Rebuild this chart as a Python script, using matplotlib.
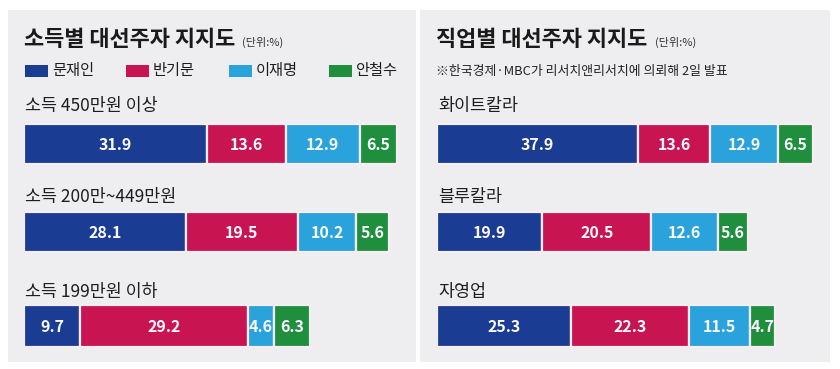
import matplotlib
matplotlib.use('Agg')
import matplotlib.pyplot as plt
from matplotlib.patches import Rectangle

plt.rcParams['font.family'] = ['Noto Sans CJK KR', 'DejaVu Sans']

candidates = ['문재인', '반기문', '이재명', '안철수']
colors = ['#1b3c93', '#c91452', '#2aa2dc', '#1f8f3e']

income_groups = ['소득 450만원 이상', '소득 200만~449만원', '소득 199만원 이하']
income_vals = [
    [31.9, 13.6, 12.9, 6.5],
    [28.1, 19.5, 10.2, 5.6],
    [9.7, 29.2, 4.6, 6.3],
]

job_groups = ['화이트칼라', '블루칼라', '자영업']
job_vals = [
    [37.9, 13.6, 12.9, 6.5],
    [19.9, 20.5, 12.6, 5.6],
    [25.3, 22.3, 11.5, 4.7],
]

W, H = 840, 369
fig = plt.figure(figsize=(W / 100, H / 100), dpi=100)
fig.patch.set_facecolor('white')


def fx(px):
    return px / W


def fy(py):
    # py measured from the top of the picture
    return 1 - py / H


# gray panels
for x0, x1 in [(8, 416), (420, 830)]:
    fig.patches.append(Rectangle((fx(x0), fy(362)), fx(x1 - x0), (362 - 10) / H,
                                 transform=fig.transFigure, facecolor='#eeeef0',
                                 edgecolor='none', zorder=-5))

row_y = [144, 232, 326]
row_h = [40, 40, 42]
label_y = [106, 197, 292]


def panel(left, right, scale, groups, vals):
    ax = fig.add_axes([fx(left), fy(352), fx(right - left), (352 - 118) / H])
    ax.set_zorder(2)
    ax.set_xlim(0, (right - left) / scale)
    ax.set_ylim(352, 118)
    ax.axis('off')
    for r, row in enumerate(vals):
        start = 0
        for c, v in enumerate(row):
            ax.barh(row_y[r], v, left=start, height=row_h[r], color=colors[c],
                    edgecolor='#f6eef3', linewidth=1.6)
            ax.text(start + v / 2, row_y[r] + 1, f'{v:.1f}', color='#fbfbff',
                    ha='center', va='center', fontsize=11.5, fontweight='bold')
            start += v
        fig.text(fx(left + 1), fy(label_y[r]), groups[r], fontsize=12.5,
                 ha='left', va='center', color='#1e1e1e', fontweight='medium')
    return ax


panel(24, 410, 5.75, income_groups, income_vals)
panel(437, 830, 5.3, job_groups, job_vals)

# titles
fig.text(fx(24), fy(40), '소득별 대선주자 지지도', fontsize=15.8, fontweight='bold',
         ha='left', va='center', color='#1a1a1a')
fig.text(fx(242), fy(42), '(단위:%)', fontsize=8, ha='left', va='center', color='#333333')
fig.text(fx(436), fy(40), '직업별 대선주자 지지도', fontsize=15.8, fontweight='bold',
         ha='left', va='center', color='#1a1a1a')
fig.text(fx(655), fy(42), '(단위:%)', fontsize=8, ha='left', va='center', color='#333333')
fig.text(fx(436), fy(71), '※한국경제·MBC가 리서치앤리서치에 의뢰해 2일 발표', fontsize=9.3,
         ha='left', va='center', color='#222222')

# legend
leg_x = [25, 126, 229, 329]
for i, name in enumerate(candidates):
    fig.patches.append(Rectangle((fx(leg_x[i]), fy(77)), fx(23), 12 / H,
                                 transform=fig.transFigure, facecolor=colors[i],
                                 edgecolor='none'))
    fig.text(fx(leg_x[i] + 27), fy(71), name, fontsize=11, ha='left', va='center',
             color='#1e1e1e')

fig.savefig('out.png', dpi=100, facecolor='white')
